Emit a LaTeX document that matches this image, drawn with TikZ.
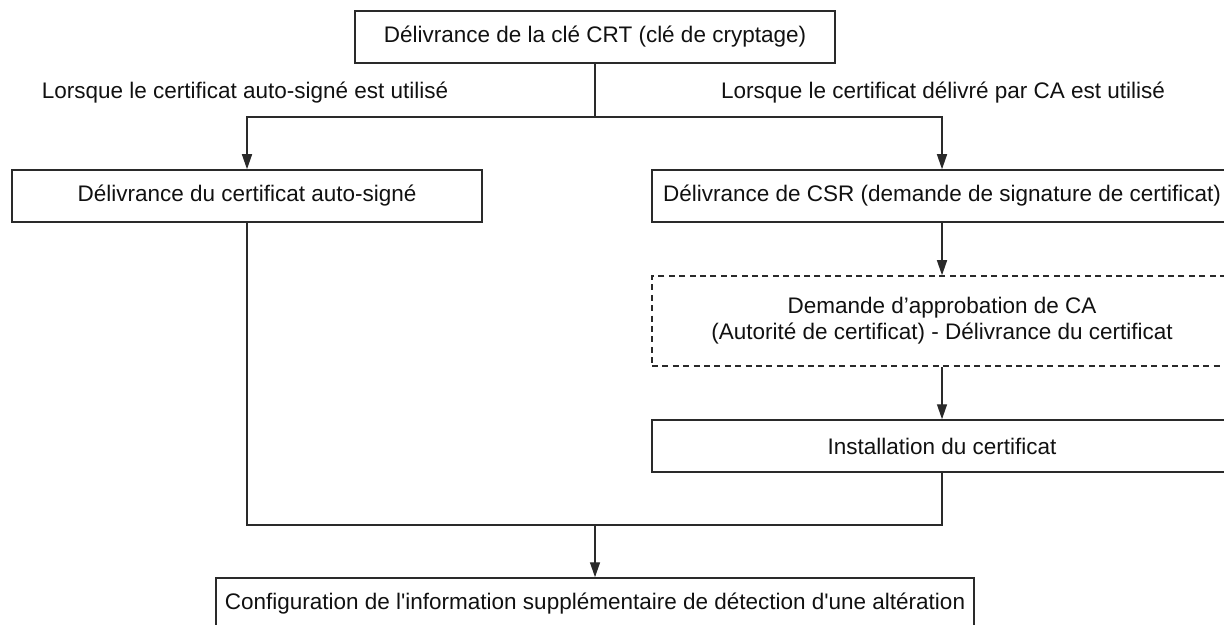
\documentclass[tikz,border=0pt]{standalone}
\usepackage{fontspec}
\setmainfont{Liberation Sans}[Ligatures=TeXOff]
\usetikzlibrary{arrows.meta}
\definecolor{linecol}{HTML}{2A2A2A}
\definecolor{textcol}{HTML}{111111}
\begin{document}
\begin{tikzpicture}[x=0.5pt,y=-0.5pt,
  every node/.style={font=\fontsize{11.25}{13}\selectfont, text=textcol},
  boxstyle/.style={draw=linecol, line width=0.75pt, rectangle, inner sep=0pt, minimum height=26pt, align=center},
  dashbox/.style={boxstyle, dash pattern=on 3pt off 2.2pt},
  conn/.style={draw=linecol, line width=0.7pt},
  arr/.style={conn, -{Triangle[length=7.5pt,width=5pt]}}]
\clip (0,0) rectangle (1224,625);
\useasboundingbox (0,0) rectangle (1224,625);
\node[boxstyle, minimum width=240pt] (top) at (595,37) {Délivrance de la clé CRT (clé de cryptage)};
\node (lab1) at (245,93) {Lorsque le certificat auto-signé est utilisé};
\node (lab2) at (943,93) {Lorsque le certificat délivré par CA est utilisé};
\node[boxstyle, minimum width=235pt] (self) at (247,196) {Délivrance du certificat auto-signé};
\node[boxstyle, minimum width=290pt] (csr) at (942,196) {Délivrance de CSR (demande de signature de certificat)};
\node[dashbox, minimum width=290pt, minimum height=45pt] (ca) at (942,321) {Demande d’approbation de CA\\(Autorité de certificat) - Délivrance du certificat};
\node[boxstyle, minimum width=290pt] (inst) at (942,446) {Installation du certificat};
\node[boxstyle, minimum width=379pt] (conf) at (595,604) {Configuration de l'information supplémentaire de détection d'une altération};
\coordinate (split) at (595,117);
\coordinate (join) at (595,525);
\draw[conn] (top.south) -- (split);
\draw[arr] (split) -| (self.north);
\draw[arr] (split) -| (csr.north);
\draw[arr] (csr.south) -- (ca.north);
\draw[arr] (ca.south) -- (inst.north);
\draw[conn] (self.south) |- (join);
\draw[conn] (inst.south) |- (join);
\draw[arr] (join) -- (conf.north);
\end{tikzpicture}
\end{document}
